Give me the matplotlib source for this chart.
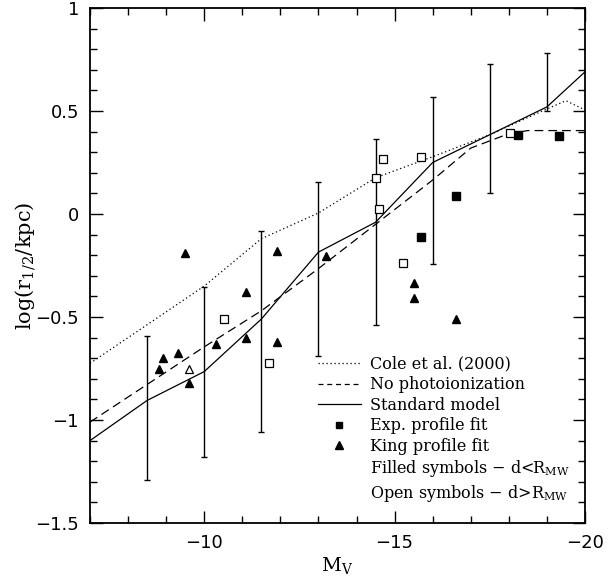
import numpy as np
import matplotlib
matplotlib.use('Agg')
import matplotlib.pyplot as plt
from matplotlib.lines import Line2D
from matplotlib.ticker import MultipleLocator, FuncFormatter

# model curves
mv_cole = [-7, -10, -11.5, -13, -14.5, -16, -17.5, -19, -19.5, -20]
r_cole = [-0.725, -0.35, -0.12, 0.005, 0.176, 0.278, 0.385, 0.51, 0.55, 0.505]

mv_nophot = [-7, -10, -11.5, -13, -14.5, -16, -17, -18, -18.5, -20]
r_nophot = [-1.01, -0.645, -0.47, -0.265, -0.05, 0.165, 0.32, 0.39, 0.405, 0.405]

mv_std = [-7, -8.5, -10, -11.5, -13, -14.5, -16, -17.5, -19, -20]
r_std = [-1.10, -0.905, -0.765, -0.51, -0.185, -0.04, 0.25, 0.385, 0.52, 0.69]

# scatter range of the standard model
mv_err = [-8.5, -10, -11.5, -13, -14.5, -16, -17.5, -19]
err_low = [-1.29, -1.18, -1.057, -0.69, -0.54, -0.245, 0.103, 0.50]
err_high = [-0.59, -0.355, -0.083, 0.157, 0.363, 0.57, 0.73, 0.783]

# observed dwarfs
mv_exp_in = [-15.7, -16.6, -18.23, -19.32]
r_exp_in = [-0.113, 0.087, 0.383, 0.379]

mv_exp_out = [-10.51, -11.71, -14.5, -14.6, -14.7, -15.22, -15.7, -18.03]
r_exp_out = [-0.508, -0.725, 0.176, 0.024, 0.268, -0.239, 0.278, 0.392]

mv_king_in = [-8.82, -8.91, -9.31, -9.5, -9.61, -10.3, -11.1, -11.1, -11.91, -11.91,
              -13.21, -15.51, -15.51, -16.62]
r_king_in = [-0.754, -0.70, -0.673, -0.191, -0.819, -0.632, -0.377, -0.60, -0.178, -0.622,
             -0.202, -0.336, -0.409, -0.511]

mv_king_out = [-9.61]
r_king_out = [-0.751]

plt.rcParams['font.family'] = 'DejaVu Serif'
plt.rcParams['mathtext.fontset'] = 'dejavuserif'

fig = plt.figure(figsize=(6.11, 5.77), dpi=100)
ax = fig.add_axes([90 / 611, 1 - 523 / 577, 495 / 611, 515 / 577])

lw = 0.9
ax.plot(mv_cole, r_cole, color='black', lw=lw, linestyle=(0, (1, 2.2)))
ax.plot(mv_nophot, r_nophot, color='black', lw=lw, linestyle=(0, (7, 4)))
ax.plot(mv_std, r_std, color='black', lw=lw)

low = np.array(err_low)
high = np.array(err_high)
mid = (low + high) / 2
ax.errorbar(mv_err, mid, yerr=(high - low) / 2, fmt='none', ecolor='black',
            elinewidth=1.0, capsize=2.0, capthick=1.0)

ax.plot(mv_exp_in, r_exp_in, 's', color='black', ms=5.5, ls='none')
ax.plot(mv_exp_out, r_exp_out, 's', mfc='white', mec='black', mew=0.9, ms=5.5, ls='none')
ax.plot(mv_king_in, r_king_in, '^', color='black', ms=5.5, ls='none')
ax.plot(mv_king_out, r_king_out, '^', mfc='white', mec='black', mew=0.9, ms=5.5, ls='none')

ax.set_xlim(-7, -20)
ax.set_ylim(-1.5, 1)

ax.xaxis.set_major_locator(MultipleLocator(5))
ax.xaxis.set_minor_locator(MultipleLocator(1))
ax.yaxis.set_major_locator(MultipleLocator(0.5))
ax.yaxis.set_minor_locator(MultipleLocator(0.1))
fmt = FuncFormatter(lambda v, p: f'{v:g}'.replace('-', '\u2212'))
ax.xaxis.set_major_formatter(fmt)
ax.yaxis.set_major_formatter(fmt)

ax.tick_params(which='both', direction='in', top=True, right=True, width=1.0)
ax.tick_params(which='major', length=9, pad=8, labelsize=13)
ax.tick_params(which='minor', length=5)
for lab in ax.get_xticklabels() + ax.get_yticklabels():
    lab.set_family('DejaVu Sans')
for s in ax.spines.values():
    s.set_linewidth(1.3)

ax.set_xlabel(r'$\mathrm{M_V}$', fontsize=14, labelpad=2)
ax.set_ylabel(r'$\mathrm{log(r_{1/2}/kpc)}$', fontsize=15, labelpad=-2)

handles = [
    Line2D([], [], color='black', lw=lw, linestyle=(0, (1, 2.2))),
    Line2D([], [], color='black', lw=lw, linestyle=(0, (4, 3))),
    Line2D([], [], color='black', lw=lw),
    Line2D([], [], marker='s', color='black', ms=5, ls='none'),
    Line2D([], [], marker='^', color='black', ms=5.5, ls='none'),
    Line2D([], [], ls='none'),
    Line2D([], [], ls='none'),
]
labels = [
    'Cole et al. (2000)',
    'No photoionization',
    'Standard model',
    'Exp. profile fit',
    'King profile fit',
    r'Filled symbols $-$ d<R$_{\mathrm{MW}}$',
    r'Open symbols $-$ d>R$_{\mathrm{MW}}$',
]
ax.legend(handles, labels, loc='upper left', bbox_to_anchor=(0.46, 0.325),
          frameon=False, fontsize=11.5, borderpad=0, borderaxespad=0,
          handlelength=2.7, handletextpad=0.6, labelspacing=0.22)

fig.savefig('out.png', dpi=100)
